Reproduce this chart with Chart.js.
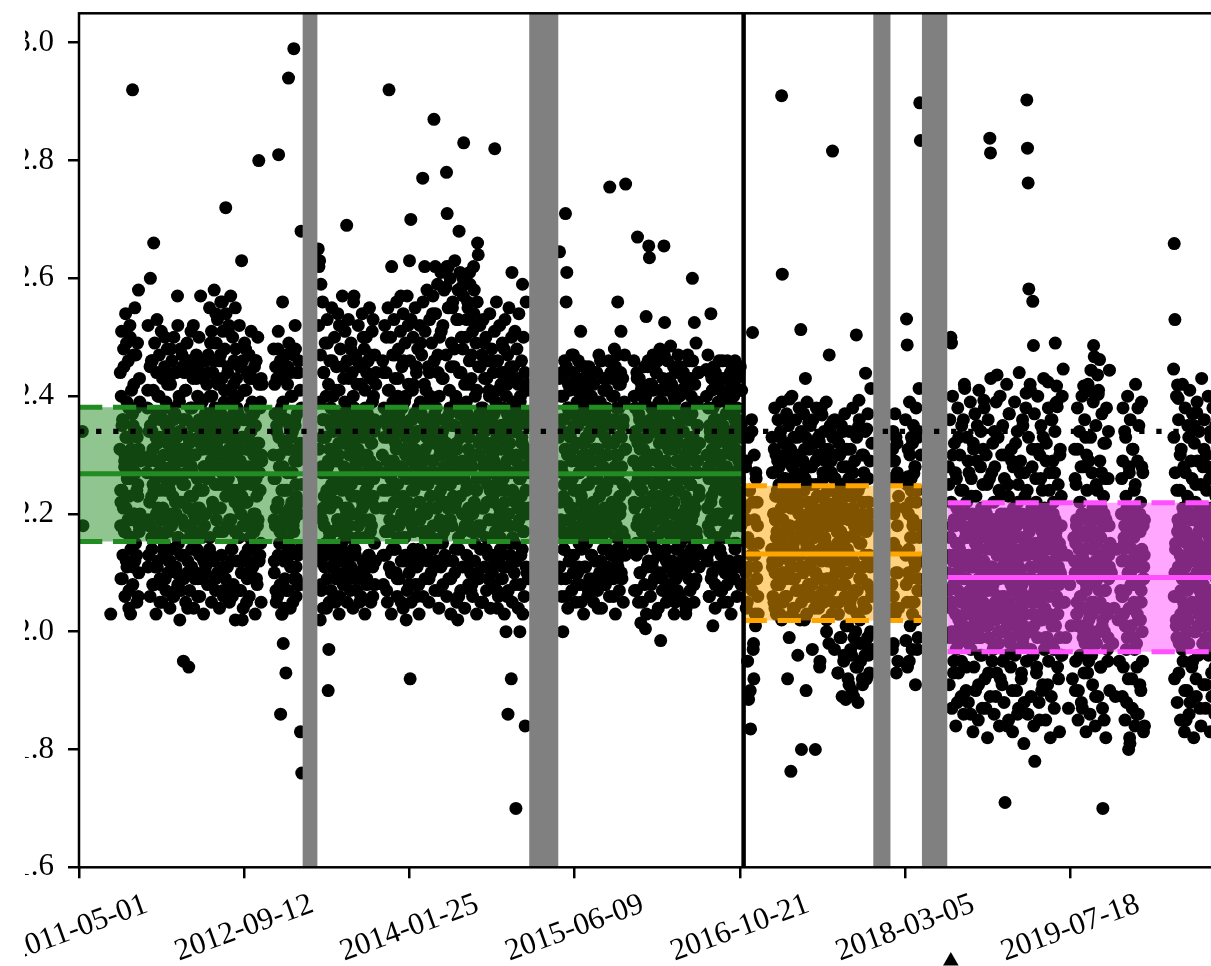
<!DOCTYPE html>
<html>
<head>
<meta charset="utf-8">
<title>Daily ratio with era bands</title>
<script src="https://cdn.jsdelivr.net/npm/chart.js@4.4.1/dist/chart.umd.min.js"></script>
<style>
  html, body { margin: 0; padding: 0; background: #fff; width: 1211px; height: 966px; overflow: hidden; }
  #frame { position: absolute; left: 25px; top: 0; width: 1186px; height: 966px; overflow: hidden; background: #fff; }
  #plot { position: absolute; left: -35px; top: 0; }
</style>
</head>
<body>
<div id="frame"><canvas id="plot" width="1270" height="966"></canvas></div>
<script>
// ---- axis labels -----------------------------------------------------------
const xTickLabels = ['2011-05-01', '2012-09-12', '2014-01-25', '2015-06-09', '2016-10-21', '2018-03-05', '2019-07-18'];
const yTickValues = [1.6, 1.8, 2.0, 2.2, 2.4, 2.6, 2.8, 3.0];
const axisStart = '2011-05-01';
const axisEnd = '2020-11-19';
const yMin = 1.6;
const yMax = 3.05;

// ---- observations ------------------------------------------------------------
// each run: [first day after axisStart, days between samples, values in hundredths]
const VALUE_SCALE = 100;
const greenEraRuns = [
  [10, 2, [234, 218]],
  [96, 2, [203]],
  [124, 2, [231,218,240,224,236,221,245,228,217,233,249,226,219,238,223,252,203,230,216,292,235,242,220,227,247,213,233,225,258,218,239,229]],
  [125, 2, [244,222,251,209,236,248,217,230,254,212,239,226,246,207,233,250,219,241,228,211,247,234,255,215,238,224,249,206,231,243,220]],
  [126, 4, [224,235,218,229,221,233,226,216,231,237,220,227,234,223,217,230]],
  [127, 6, [209,213,206,211,204,214,208,212,205,210]],
  [206, 2, [227,241,219,234,222,260,230,216,246,225,266,236,211,229,220,253,232,217,240,224,
            237,208,228,244,221,233,215,250,226,235,219,242,230,212,224,238,248,218,231,223,
            236,227,244,207,220,233,257,216,229,239,222,213,234,247,225,195,231,218,241,227,
            236,210,221,194,232,245,217,228,238,223,252,214,230,219,235,243,226,209,233,221,
            239,257,224,216,231,246,228,212,237,220,234,226]],
  [207, 2, [238,252,213,229,245,218,246,234,208,241,224,249,216,233,244,211,240,227,247,205,
            236,251,220,243,214,230,245,209,239,225,248,217,235,243,212,242,228,246,206,232,
            250,219,237,244,210,226,252,215,240,231,248,207,222,245,213,236,244,218,241,229,
            249,204,233,246,216,238,251,211,227,243,220,245,209,235,247,214,240,224,250,206,
            232,244,217,239,243,212,228,246,210,237,242]],
  [208, 4, [229,218,235,223,231,216,226,237,221,233,219,228,236,224,217,232,225,234,220,230,
            237,222,227,216,234,229,219,236,225,231,218,233,223,228,235,217,230,221,226,236,
            220,232,224,218,235,227,233,216,229,222,237,225,219,231,234,221,228,217,236,223,
            230,226,235,219,232,224,217,229,237,221,227,233,218,225,236,222,231,216,234,228,
            220,235,226,218,232,224,230]],
  [209, 6, [211,206,214,208,203,212,209,205,213,207,210,204,214,206,211,208,202,213,209,205,
            212,207,214,204,210,206,213,209,203,211,208,214,205,212,207,210,204,213,206,209,
            211,205,214,208,202,212,207,210,204,213,209,206,211,214,203,208,212,205]],
  [390, 2, [231,244,226,236,249,229,240,234,221,246,228,238,254,232,243,225,235,210,230,247,
            237,227,256,207,233,241,229,272,236,218,244,251,231,224,239,212,234,206,228,242,
            235,222,248,230,238]],
  [391, 2, [247,232,255,240,213,251,236,244,221,258,238,209,249,230,253,242,217,246,234,256,
            225,243,251,211,239,248,228,254,235,207,245,252,219,241,257,233,214,250,237,246,
            223,255,231,243]],
  [480, 2, [224,237,216,245,229,220,263,202,233,226,241,218,248,231,222,236,214,228,243,219,
            234,225,239,211,230,217,212,235,246,223,232,219,280,227,238,215,229,242]],
  [481, 2, [240,216,252,231,207,245,223,246,236,212,249,228,241,205,244,233,218,247,238,210,
            251,226,243,214,237,245,220,246,209,232,250,224,242,213,239,243,229]],
  [588, 2, [230,219,242,226,207,235,221,248,281,228,217,186,238,224,256,198,232,204,220,193,
            236,227,245,294,215,231,211,240,222,234,218,299,229,252,225,209,237,220,244,231,
            214,183,268,176]],
  [589, 2, [248,212,237,245,221,243,206,251,233,215,246,228,203,243,239,218,244,209,231,247,
            224,242,207,249,235,213,244,227,240,205,247,219,236,248,211,244,230,208,246,222,
            241,214,238]],
  [590, 4, [226,218,234,222,230,237,219,228,224,236,216,231,221,233,227,217,235,223,229,220,232,225]],
  [591, 6, [210,205,213,208,203,212,207,214,204,211,209,206,213,208]],
  [724, 2, [265,262,263,202,259,228,219,236,244,223,233,215,240,227,249,190,197,231,221,238,
            225,246,217,234,229,212,205,241,222,236,219,230,252,226,214,237,224,245,232,218,
            239,227,210,269,235,221,243,230,216,248,225,233,220,240,257,228,213,237,223,246,
            231,218,235,226,209,242,229,221,250,234,216,238,224,244,230,211,236,227,219,247,
            232,222,239,253,226,215,235,242,228]],
  [725, 2, [252,214,239,247,208,233,256,221,244,211,249,236,204,253,228,242,217,246,231,207,
            255,224,240,213,250,235,209,245,229,254,218,241,206,248,234,215,257,226,243,210,
            251,237,220,246,212,253,232,239,207,249,223,244,214,256,238,209,247,230,242,216,
            252,227,205,245,236,219,254,233,211,248,241,222,250,208,237,246,213,255,229,243,
            218,251,206,240,234,247,212,244]],
  [726, 4, [231,220,227,236,218,233,224,229,216,235,222,230,226,237,219,232,225,217,234,228,
            221,236,224,218,231,227,235,220,229,233,216,226,237,222,230,219,234,225,228,217,
            232,223,236,221]],
  [727, 6, [212,207,204,213,209,205,211,214,206,210,203,212,208,213,205,209,211,204,214,207,
            210,206,212,203,209,213,205,211,208]],
  [918, 2, [230,221,244,227,236,217,250,224,233,241,292,219,235,226,262,214,239,229,222,247,
            232,210,237,225,243,218,234,228,257,220,238,223,246,231,216,240,202,227,235,252,
            221,263,192,270,229,236,213,242,224,233,219,245,230,226,238,208,234,222,249,228,
            217,277,236,225,262,231,241,220,235,212,227,244,232,223,239,216,254,229,287,237,
            262,221,234,226,247,218,240,230,224,251,233,215,243,228,236,222,258.5,278,271,231,
            262,225,238,219,245,230,255,227,235,248,221,240,232,226,202,253,268,237,223,244,
            258.5,229,260,283,234,218,250,239,225,256,231,242,261,236,207,247,228,220,262,258,
            235,252,224,241,266,264,230,217,245,205,233,226,238,221,249,229,236,214,243,227,
            232,219,240,224,235,211,246,230,222,237,282,228,234,216,204,241,225,233,220,244,
            231,213,238,226,248,222,235,200,229,242,186,236,218,232,245,192,261,224,239,227,
            215,234,170,230,243,221,237,226,200,240,223,233,259,228,217,236,184,231,220,242,
            227,235]],
  [919, 2, [246,213,238,252,221,244,207,235,255,217,241,229,250,210,237,247,224,253,214,243,
            232,256,209,240,248,219,236,251,205,245,227,254,216,239,249,212,233,257,222,242,
            208,246,231,253,218,241,250,211,237,255,225,244,206,248,234,214,252,239,220,247,
            229,256,213,242,251,217,236,258,226,245,209,253,240,223,249,215,257,233,246,211,
            254,238,221,259,244,207,250,231,261,216,243,252,225,258,236,212,247,262,230,255,
            219,241,260,209,249,235,256,223,245,263,214,239,253,228,258,206,244,261,233,250,
            217,248,257,226,242,260,211,253,237,255,221,246,259,230,243,208,251,236,254,215,
            240,249,224,256,210,245,232,252,218,238,247,205,253,229,243,214,250,235,222,246,
            209,241,254,227,237,248,213,244,231,251,219,239,256,207,246,233,224,252,216,242,
            235,249,211,244,228,253,220,240,206,247,234,255,215,243,230,250,212,238,245,223,
            251,208,236,248,218,242,254,226,239,213,246,232,203,250,221,244,237,256,210,241,
            228]],
  [920, 4, [224,233,217,229,236,221,227,218,234,225,231,216,237,222,228,235,219,230,226,233,
            220,236,224,217,231,228,234,222,219,237,226,230,216,233,225,221,235,229,218,232,
            227,236,223,219,230,234,217,226,232,221,237,225,218,229,235,222,231,216,228,234,
            220,227,236,224,219,233,229,217,235,222,230,226,218,237,232,221,228,234,216,225,
            231,219,236,223,229,217,233,226,221,235,228,218,232,224,237,220,230,227,216,234,
            222,229,235,219,226,232,217,236,224,230,221]],
  [921, 6, [208,213,205,211,203,210,214,206,209,212,204,213,207,210,205,214,208,211,203,212,
            206,209,213,205,210,214,207,212,204,211,208,213,206,209,203,212,210,205,214,207,
            211,204,213,208,210,206,212,203,209,214,205,211,207,213,204,210,208,212,206,214,
            209,203,211,207,213,205,210,212,204,208,214,206,211,209]],
  [1452, 2, [233,264.5,222,240,228,217,200,236,225,244,271,256,261,230,219,238,226,213,234,242,
             221,231,247,224,216,237,229,241,220,235,211,227,239,251,223,232,218,245,228,236,
             221,243,215,230,238,225,233,219,208,240,227,235,222,244,217,231,237,212,226,239,
             220,234,229,246,224,216,236,228,241,221,233,209,238,225,230,243,218,275.5,235,210,
             227,240,222,232,248,219,236,226,214,256,230,238,223,242,251,228,217,235,225,239,
             231,276]],
  [1453, 2, [243,218,236,209,244,227,240,214,246,231,206,245,222,238,242,212,241,233,217,247,
             226,210,244,235,220,243,208,239,229,246,215,242,224,205,241,237,219,243,211,232,
             245,216,240,228,207,245,234,221,242,213,238,226,242,209,244,231,218,244,236,204,
             247,223,239,212,246,230,217,243,208,237,241,225,241,214,232,246,219,210,244,235,
             222,243,206,240,228,245,216,238,247,211,242,227,220,244,233,209,243,236,215,247,
             224]],
  [1454, 4, [228,219,234,223,216,231,226,237,221,229,218,235,224,232,217,227,236,222,230,220,
             233,225,218,236,229,221,234,216,227,231,223,237,219,228,235,224,217,232,226,220,
             236,222,230,218,233,227,221,235,225,216,231]],
  [1455, 6, [211,206,214,209,204,212,207,213,205,210,208,214,203,211,206,209,213,205,212,207,
             210,204,214,208,211,206,213,209,203,212,207,210,205,213]],
  [1678, 2, [229,240,221,234,215,244,267,226,237,219,231,201.5,242,224,235,217,228,239,200.5,253.5,
             222,233,246,265.5,263.5,227,218,238,230,212,241,225,235,220,244,229,216,237,223,232,
             248,198.5,226,239,219,234,265.5,252.5,228,214,236,222,242,231,217,227,248.5,238,221,233,
             211,240,225,205,235,229,245,218,232,224,237,215,241,228,220,234,243,226,230,203,
             238,222,247,231,216,236,225,240,219,260,233,227,252.5,221,239,213,235,229,244,223,
             232]],
  [1679, 2, [246,214,238,225,207,243,232,219,243,210,236,241,222,205,241,229,245,216,240,233,
             211,245,227,218,242,236,208,242,223,247,215,238,230,203,244,221,246,213,239,226,
             241,217,235,209,243,228,247,220,241,212,237,246,224,206,243,231,216,242,234,210,
             245,222,239,244,214,233,207,247,226,240,219,245,212,236,229,244,205,241,223,242,
             217,238,232,209,246,225,243,214,237,246,220,208,242,231,249,216,239,227,244,211]],
  [1680, 4, [222,233,218,228,236,224,217,231,226,235,220,229,216,234,223,237,219,230,227,221,
             233,217,225,236,229,222,232,218,227,235,220,231,224,216,237,226,219,234,228,221,
             230,236,218,225,233,222,229,217,235,224]],
  [1681, 6, [207,213,205,210,214,208,203,212,206,211,209,214,204,210,207,213,205,211,208,212,
             203,209,214,206,210,213,204,211,207,212,205,209,214]],
  [1898, 2, [244.5,230,221,238,226,217,234,254,223,241,201,229,236,219,244,225,232,214,239,227,
             220,235,243,207,230,224,240,216,233,222,237,228,246,218,231,225,239,210,234,221,
             242,227,215,236,244,223,230,238,219,233,226,241,222,235,229]],
  [1899, 2, [240,213,247,228,206,244,233,219,243,210,238,245,224,208,242,236,216,242,230,246,
             214,241,226,207,246,235,220,243,212,239,243,227,205,241,232,218,244,237,211,245,
             223,240,209,246,231,215,243,236,212,244,228,245,218,241]],
  [1900, 4, [227,218,235,222,231,216,229,236,220,233,225,219,234,228,217,232,223,237,221,230,
             226,218,235,224,229,220,233]],
  [1901, 6, [212,206,209,214,204,211,207,213,205,210,208,212,203,209,214,206,211,208]]
];
const orangeEraRuns = [
  [2016, 2, [221,210,229,205,216,188.5,224,208,183.5,213,234,250.8,197,192,219,203,227,211,222,206,215]],
  [2017, 2, [228,204,219,195,233,211,224,190,215,236,207,222,198,230,213,201,226,209,218,203]],
  [2096, 2, [214,227,206,220,231,210,223,203,217,229,212,225,208,233,219,291,260.7,205,222,230,
             215,226,209,232,192,218,224,239.5,235.7,176.3,211,228,221,204,230,216,226,207,223,233,
             213,220,229,202,251.3,180,217,227,210,224,231,243,190,214,222,206,235.4,219,228,211,
             225,208,232,216,221,204,180,229,213,223,218,230,232.3,195,209,238,236.8,220,226,205,
             215,231,222,200,227,212,219,247,224,207,229,214,281.6,235.8,221,197,226,210,233,217,
             193,223,205,230,219,199,225,212,234,195,221,208,188.5,228,216,201,224,191,213,231,
             220,196,206,227,189,218,223,200,250.4,211,194,234.8,239.3,215,198,225,209,192,222,230,
             204,196,243.9,217,234.4,199,226,212,193,220,241.3,207,197]],
  [2097, 2, [233,212,227,205,238,219,230,208,224,236,215,228,203,234,221,239,210,226,232,217,
             206,229,237,213,223,235,199,218,231,209,240,225,214,233,204,227,236,216,221,196,
             230,238,211,224,234,207,219,229,237,202,226,233,215,239,222,208,231,218,235,212,
             228,197,236,220,232,210,225,238,205,217,233,223,194,230,214,237,219,227,206,234,
             216,229,239,209,224,231,198,221,235,212,227,203,233,218,226,236,208,222,230,215,
             193,232,224,199,217,235,189,228,210,196,237,220,201,231,214,192,226,234,205,197,
             223,190,238,212,199,229,216,194,233,207,188,225,236,202,195,219,230,191,211,227,
             198,234,204,192,222,237,196,213,229,200,218,232]],
  [2098, 4, [211,220,204,216,223,208,214,202,219,210,224,206,217,212,221,203,215,209,222,207,
             218,213,205,224,211,217,203,220,208,214,222,206,216,210,223,204,219,212,207,221,
             215,202,218,209,224,213,205,220,211,217,203,222,208,216,214,206,223,210,219,204,
             212,221,207,217,203,224,209,215,220,205,213,218,208,222,211,206]],
  [2458, 2, [226,208,231,198,220,229,203,233,214,227,195,223]],
  [2459, 2, [229,197,234,215,204,237,221,193,232,210,226]],
  [2460, 4, [214,206,221,210,218,204]],
  [2500, 2, [221,198.5,253.1,248.7,226.3,210,195,230,216,226,205,232,219,226.9,212,228,202,224,197,233,209,241.3,289.8,283.4,218]],
  [2501, 2, [236,208,225,194,231,214,239,201,222,233,197,218,235,205,228,191,238,212,224,199,234,216,207,230]],
  [2502, 4, [213,205,220,209,224,203,216,211,222,207,218,212]]
];
const magentaEraRuns = [
  [2630, 2, [210,225,199,216,250,249,205,230,193,219,212,227,197,221,188,207,233,214,202,224,
             195,218,209,236,200,241.3,213,190,222,206,229,198,217,211,186,226,203,220,232,194,
             208,215,223,199,235,212,191,219,204,228,216,196,210,231,239.3,201,221,187,214,225,
             207,193,218,283.8,281.3,202,227,211,197,222,234,205,189,217,243.6,213,200,224,209,192,
             220,230,215,195,206,226,171,212,219,184,203,223,237,210,198,216,229,190,208,221,
             214,196,232,204,218,186,225,211,200,227,207,193,220,235,213,188,223,205,240.5,290.3,
             282.1,276.2,258.2,217,242,197,209,228,256.1,248.6,201,178,215,222,194,231,206,219,185,212,
             226,203,217,191,233,210,221,199,229,208,214,242.4,195,224,202,218,189,236,211,220,
             197,227,249,238.8,241.7,238.2,205,192,215,230,209,223,196,213,244.6]],
  [2631, 2, [228,191,236,205,222,187,240,213,195,232,218,184,226,209,238,193,215,230,201,189,
             235,211,224,186,242,203,220,194,233,216,188,227,207,239,197,223,212,183,231,200,
             237,190,219,229,206,185,241,214,196,234,221,187,225,202,238,192,217,230,208,182,
             236,199,226,189,243,211,195,232,219,186,228,204,239,193,215,233,198,184,240,210,
             223,191,235,205,188,230,217,196,242,201,225,185,237,212,194,231,220,183,228,207,
             239,197,216,190,234,222,187,244,203,229,192,213,236,199,181,227,209,238,195,224,
             186,233,214,200,241,189,221,231,196,184,237,208,226,193,218,240,202,188,230,212,
             235,190,224,206,243,197,219,185,232,215,191,238,203,227,182,236,210,198,229,222,
             187,234,201,217,239,194,225,208,183,231,214,196,240,205]],
  [2632, 4, [207,216,200,212,219,203,210,198,214,205,220,201,209,217,204,213,199,218,206,211,
             202,215,208,220,199,212,205,217,201,210,219,203,214,207,198,216,209,204,218,200,
             213,206,220,202,211,215,199,208,217,204,212,201,219,206,210,214,198,216,203,209,
             218,200,211,205,220,207,213,199,215,202,209,217,204,212,198,219,206,210,201,214,
             208,216,203,211,199,218,205]],
  [2634, 4, [213,204,218,208,200,215,210,202,219,206,212,199,216,209,203,220,207,211,201,217,
             205,214,209,199,218,203,212,207,220,201,210,215,204,208,219,202,213,206,217,200,
             211,216,203,209,220,205,214,199,207,218,202,212,210,204,216,208,201,219,206,213,
             200,215,209,203,218,211,205,220,207,213,202,216,204,210,199,217,208,214,201,212,
             219,206,203,215,210,209]],
  [2982, 4, [205,199,213,187,208,201,192,216]],
  [3012, 2, [212,226,195,219,205,231,190,216,222,201,228,209,187,220,241.7,214,198,233,207,224,
             193,217,229,203,211,244.4,196,240.7,221,248.6,246.7,208,189,225,215,243.6,240.3,200,246.2,219,
             194,227,210,170,223,185,213,232,204,218,197,226,209,244.4,215]],
  [3013, 2, [231,190,225,203,238,185,217,234,196,222,188,240,209,228,193,236,214,183,230,201,
             242,195,219,186,233,211,227,191,239,205,216,184,235,198,224,189,241,207,229,194,
             221,237,187,213,232,200,226,182,238,210,195,234,218,190]],
  [3014, 4, [210,218,201,214,206,220,199,212,204,216,208,198,219,203,211,215,200,209,217,205,213,202,220,207,214,199,211]],
  [3016, 4, [215,203,211,219,206,213,200,217,208,210,202,218,205,214,199,212,209,220,204,216,201,211,207,219,203,213]],
  [3124, 4, [210,198,204,189,214,202,195,207]],
  [3154, 2, [220,206,229,194,214,234,201,223,188,217,210,180,227,181,204,221,192,231,208,216,
             197,225,212,186,219,238,202,213,191,222,207,228,195,218,211,184]],
  [3155, 2, [226,189,238,203,215,185,233,197,221,240,192,228,182,236,208,219,187,231,199,224,
             184,242,211,194,229,186,235,205,217,190,239,200,227,183,213]],
  [3156, 4, [212,203,218,207,199,215,210,201,220,205,213,198,217,208,202,214,209,219]],
  [3158, 4, [206,216,201,212,219,204,210,214,199,217,208,203,213,220,205,211,209]],
  [3312, 2, [244.6,265.9,253,214,202,224,241.9,239.6,193,218,230,207,211,197,221,205,216,190,227,185,
             209,223,200,233,213,188,219,204,226,195,215,235,208,222,192,237.2,229,201,217,212,
             187,225,206,220,198,214,231,203,218,191,224,210,228,196,216,207,234,221,189,212,
             227,202,219,194,223,209,230,215,199,225,205,218,236,193,211,222,200,228,214,197,
             220,208,232,216,190,224,204,219]],
  [3313, 2, [233,192,227,206,240,188,219,236,198,224,185,231,212,242,195,228,183,238,203,217,
             190,235,222,186,241,209,229,194,237,213,182,232,200,225,189,239,215,196,234,207,
             221,184,243,202,228,191,236,211,187,230,218,197,240,205,226,183,233,193,220,238,
             199,214,186,235,224,190,242,208,229,195,217,237,185,231,203,222,188,239,210,226,
             192,234,201,219,184,241,213]],
  [3314, 4, [206,215,199,211,218,203,209,220,201,213,207,198,216,204,212,219,200,210,214,205,
             217,202,208,220,199,213,206,215,201,211,218,204,209,198,216,203,212,219,207,200,
             214,210,202,217]],
  [3316, 4, [210,201,217,206,213,199,219,204,211,215,202,208,220,205,212,200,216,209,203,218,
             207,214,201,211,219,204,210,216,199,213,206,220,202,209,215,205,212,218,200,208,
             214,203,217]]
];

// ---- era bands: [lower, median, upper] -------------------------------------
const greenBand = [2.153, 2.268, 2.381];
const orangeBand = [2.019, 2.132, 2.248];
const magentaBand = [1.966, 2.092, 2.219];
const eraBounds = [['2011-05-01', '2016-11-01'], ['2016-11-01', '2018-04-24'], ['2018-07-11', '2020-11-19']];
const gapSpans = [['2013-03-07', '2013-04-22'], ['2015-01-22', '2015-04-21'], ['2017-11-28', '2018-01-20'], ['2018-04-24', '2018-07-11']];
const changeDate = '2016-11-01';
const referenceLevel = 2.34;
const markerDates = ['2018-07-21'];

// ---- helpers ---------------------------------------------------------------
const dayOf = s => { const p = s.split('-').map(Number); return Date.UTC(p[0], p[1] - 1, p[2]) / 864e5; };
const origin = dayOf(axisStart);

function pointsFromRuns(runs) {
  const out = [];
  for (const [offset, step, vals] of runs) {
    vals.forEach((v, k) => out.push({ x: origin + offset + step * k, y: v / VALUE_SCALE }));
  }
  return out;
}
const observations = [
  ...pointsFromRuns(greenEraRuns),
  ...pointsFromRuns(orangeEraRuns),
  ...pointsFromRuns(magentaEraRuns)
];

const eraStyles = [
  { line: '#228b22', fill: 'rgba(34,139,34,0.5)', band: greenBand },
  { line: '#ffa500', fill: 'rgba(255,165,0,0.5)', band: orangeBand },
  { line: '#ff4fff', fill: 'rgba(255,79,255,0.5)', band: magentaBand }
];

const plain = { type: 'line', pointRadius: 0, pointHoverRadius: 0, clip: 0, tension: 0 };
const datasets = [{
  type: 'scatter', label: 'daily value', data: observations, parsing: false, normalized: true,
  pointRadius: 6.5, pointHoverRadius: 6.5, pointBackgroundColor: '#000', pointBorderWidth: 0,
  clip: 0, order: 6
}];

eraStyles.forEach((st, i) => {
  const [lo, mid, hi] = st.band;
  const x0 = dayOf(eraBounds[i][0]), x1 = dayOf(eraBounds[i][1]);
  const level = y => [{ x: x0, y }, { x: x1, y }];
  datasets.push({ ...plain, data: level(lo), fill: { value: hi }, backgroundColor: st.fill, borderColor: 'transparent', borderWidth: 0, order: 5 });
  datasets.push({ ...plain, data: level(hi), borderColor: st.line, borderWidth: 5, borderDash: [23.3, 10.7], fill: false, order: 4 });
  datasets.push({ ...plain, data: level(mid), borderColor: st.line, borderWidth: 5, fill: false, order: 4 });
  datasets.push({ ...plain, data: level(lo), borderColor: st.line, borderWidth: 5, borderDash: [23.3, 10.7], fill: false, order: 4 });
});

gapSpans.forEach(([a, b]) => {
  datasets.push({ ...plain, data: [{ x: dayOf(a), y: yMax }, { x: dayOf(b), y: yMax }], fill: 'start',
    backgroundColor: '#808080', borderColor: 'transparent', borderWidth: 0, order: 3 });
});

datasets.push({ ...plain, data: [{ x: dayOf(changeDate), y: yMin }, { x: dayOf(changeDate), y: yMax }],
  borderColor: '#000', borderWidth: 4.5, fill: false, order: 2 });

datasets.push({ ...plain, data: [{ x: dayOf(axisStart), y: referenceLevel }, { x: dayOf(axisEnd), y: referenceLevel }],
  borderColor: '#000', borderWidth: 5.3, borderDash: [5.3, 11.8], fill: false, order: 1 });

// frame, rotated date labels and the event marker under the axis
const axisDecor = {
  id: 'axisDecor',
  afterDraw(chart) {
    const { ctx, chartArea: a, scales: { x } } = chart;
    ctx.save();
    ctx.strokeStyle = '#000';
    ctx.lineWidth = 2.5;
    ctx.strokeRect(a.left, a.top, a.right - a.left, a.bottom - a.top);

    ctx.fillStyle = '#000';
    ctx.font = '31px "Liberation Serif", "Times New Roman", serif';
    ctx.textAlign = 'center';
    ctx.textBaseline = 'middle';
    xTickLabels.forEach(lbl => {
      const px = x.getPixelForValue(dayOf(lbl));
      ctx.save();
      ctx.translate(px, a.bottom + 61);
      ctx.rotate(-20 * Math.PI / 180);
      ctx.fillText(lbl, 0, 0);
      ctx.restore();
    });

    markerDates.forEach(d => {
      const px = x.getPixelForValue(dayOf(d));
      Chart.helpers.drawPoint(ctx, { pointStyle: 'triangle', radius: 9, borderWidth: 0, rotation: 0 }, px, a.bottom + 93.7);
    });
    ctx.restore();
  }
};

const tickGrid = { display: true, drawOnChartArea: false, drawTicks: true, tickLength: 11, color: '#000', lineWidth: 2.5 };

new Chart(document.getElementById('plot'), {
  type: 'scatter',
  data: { datasets },
  options: {
    responsive: false,
    animation: false,
    devicePixelRatio: 1,
    events: [],
    layout: { padding: { left: 0, top: 13.3, right: 27.6, bottom: 0 } },
    plugins: { legend: { display: false }, tooltip: { enabled: false } },
    scales: {
      x: {
        type: 'linear',
        min: dayOf(axisStart),
        max: dayOf(axisEnd),
        afterBuildTicks: axis => { axis.ticks = xTickLabels.map(l => ({ value: dayOf(l) })); },
        afterFit: axis => { axis.height = 966 - 867.3; axis.paddingLeft = 0; axis.paddingRight = 0; },
        ticks: { display: false },
        grid: tickGrid,
        border: { display: false }
      },
      y: {
        type: 'linear',
        min: yMin,
        max: yMax,
        afterBuildTicks: axis => { axis.ticks = yTickValues.map(v => ({ value: v })); },
        afterFit: axis => { axis.width = 89; axis.paddingTop = 0; axis.paddingBottom = 0; },
        ticks: {
          padding: 14,
          color: '#000',
          font: { family: '"Liberation Serif", "Times New Roman", serif', size: 31 },
          callback: v => Number(v).toFixed(1)
        },
        grid: tickGrid,
        border: { display: false }
      }
    }
  },
  plugins: [axisDecor]
});
</script>
</body>
</html>
